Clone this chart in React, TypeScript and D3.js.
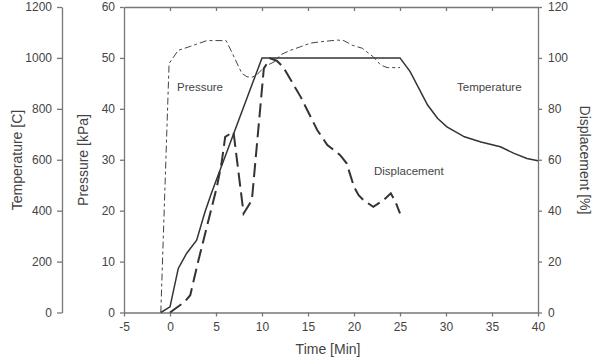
import React, { useEffect, useRef } from 'react';
import * as d3 from 'd3';

// time [min], temperature [C]
const tempTime = [-1, 0, 0.9, 1.8, 2.9, 3.8, 4.5, 10, 25, 26.1, 28, 29.1, 30.1, 32, 33.8, 35.9, 37.4, 38.8, 40];
const tempValue = [0, 22, 173, 232, 284, 395, 468, 1000, 1000, 946, 815, 762, 729, 690, 670, 651, 625, 605, 596];

// time [min], pressure [kPa]
const presTime = [-1, -0.1, 0.9, 1.6, 2.9, 4, 6.1, 6.7, 7.8, 8.35, 8.9, 9.4, 10.3, 11.4, 12, 13.1, 14.2, 15.25, 16.5, 18.2, 18.9, 19.8, 20.9, 22.1, 22.9, 23.6, 25];
const presValue = [0, 48.9, 51.5, 51.9, 52.7, 53.4, 53.4, 51.2, 47, 46.3, 46.2, 46.6, 48.3, 49.3, 50.6, 51.5, 52.2, 52.9, 53.2, 53.5, 53.4, 52.5, 51.9, 50.2, 48.6, 48.1, 48.1];

// time [min], displacement [%]
const dispTime = [0, 1.6, 2.2, 3.1, 4, 5.1, 5.6, 6, 6.9, 8, 8.9, 10.2, 10.9, 11.6, 12.3, 14.2, 16, 17.1, 18.5, 19.2, 20, 20.5, 21.05, 22.1, 23.2, 24, 24.5, 25];
const dispValue = [0, 4.2, 6.8, 20.6, 33.6, 49.4, 58.6, 69, 71, 38.9, 44.1, 95.9, 99.8, 98.9, 96.5, 84.7, 71.7, 65.8, 61.8, 58.6, 49.4, 46.1, 44.1, 41.5, 44.1, 46.8, 43.5, 38.9];

const timeTicks = [-5, 0, 5, 10, 15, 20, 25, 30, 35, 40];
const tempTicks = [0, 200, 400, 600, 800, 1000, 1200];
const presTicks = [0, 10, 20, 30, 40, 50, 60];
const dispTicks = [0, 20, 40, 60, 80, 100, 120];

const App = () => {
    const svgRef = useRef<SVGSVGElement>(null);

    useEffect(() => {
        if (!svgRef.current) return;
        const svg = d3.select(svgRef.current);
        svg.selectAll('*').remove();

        const left = 124, right = 538, top = 7, bottom = 312.5;
        const tempAxisX = 62;
        const axisColor = '#777';
        const textColor = '#444';
        const font = 'Liberation Sans, Arial, sans-serif';
        // plain integers with an ascii hyphen for negatives
        const fmt = (d: any) => String(d);

        const x = d3.scaleLinear().domain([-5, 40]).range([left, right]);
        const yT = d3.scaleLinear().domain([0, 1200]).range([bottom, top]);
        const yP = d3.scaleLinear().domain([0, 60]).range([bottom, top]);
        const yD = d3.scaleLinear().domain([0, 120]).range([bottom, top]);

        const styleAxis = (g: any) => {
            g.select('.domain').attr('stroke', axisColor).attr('stroke-width', 1.3);
            g.selectAll('.tick line').attr('stroke', axisColor).attr('stroke-width', 1.3);
            g.selectAll('.tick text').attr('fill', textColor).attr('font-size', 12).attr('font-family', font);
        };

        // bottom time axis
        svg.append('g')
            .attr('transform', `translate(0,${bottom})`)
            .call(d3.axisBottom(x).tickValues(timeTicks).tickFormat(fmt).tickSize(4).tickPadding(6).tickSizeOuter(0))
            .call(styleAxis);

        // top frame with inward ticks
        svg.append('g')
            .attr('transform', `translate(0,${top})`)
            .call(d3.axisBottom(x).tickValues(timeTicks.slice(1, -1)).tickSize(4).tickFormat(() => '').tickSizeOuter(0))
            .call(styleAxis);

        // temperature axis (far left)
        svg.append('g')
            .attr('transform', `translate(${tempAxisX},0)`)
            .call(d3.axisLeft(yT).tickValues(tempTicks).tickFormat(fmt).tickSize(5).tickPadding(5).tickSizeOuter(0))
            .call(styleAxis);

        // pressure axis
        svg.append('g')
            .attr('transform', `translate(${left},0)`)
            .call(d3.axisLeft(yP).tickValues(presTicks).tickFormat(fmt).tickSize(4).tickPadding(5).tickSizeOuter(0))
            .call(styleAxis);

        // displacement axis (right)
        svg.append('g')
            .attr('transform', `translate(${right},0)`)
            .call(d3.axisRight(yD).tickValues(dispTicks).tickFormat(fmt).tickSize(4).tickPadding(6).tickSizeOuter(0))
            .call(styleAxis);

        const lineT = d3.line<number>().x((d, i) => x(tempTime[i])).y(d => yT(d));
        const lineP = d3.line<number>().x((d, i) => x(presTime[i])).y(d => yP(d));
        const lineD = d3.line<number>().x((d, i) => x(dispTime[i])).y(d => yD(d));

        svg.append('path')
            .datum(presValue)
            .attr('fill', 'none')
            .attr('stroke', '#444')
            .attr('stroke-width', 1)
            .attr('stroke-dasharray', '7,3,3,3')
            .attr('d', lineP);

        svg.append('path')
            .datum(tempValue)
            .attr('fill', 'none')
            .attr('stroke', '#333')
            .attr('stroke-width', 1.5)
            .attr('d', lineT);

        svg.append('path')
            .datum(dispValue)
            .attr('fill', 'none')
            .attr('stroke', '#333')
            .attr('stroke-width', 2)
            .attr('stroke-dasharray', '14,6')
            .attr('d', lineD);

        // series labels
        const label = (tx: number, ty: number, text: string) =>
            svg.append('text')
                .attr('x', tx).attr('y', ty)
                .attr('fill', textColor)
                .attr('font-size', 11.5)
                .attr('font-family', font)
                .text(text);
        label(177, 91, 'Pressure');
        label(457, 91, 'Temperature');
        label(374, 175, 'Displacement');

        // axis titles
        const title = (tx: number, ty: number, rot: number, text: string) =>
            svg.append('text')
                .attr('transform', `translate(${tx},${ty}) rotate(${rot})`)
                .attr('text-anchor', 'middle')
                .attr('fill', textColor)
                .attr('font-size', 14)
                .attr('font-family', font)
                .text(text);
        title(22, 160, -90, 'Temperature [C]');
        title(88, 160, -90, 'Pressure [kPa]');
        title(580, 160, 90, 'Displacement [%]');
        title(328, 354, 0, 'Time [Min]');
    }, []);

    return (
        <svg
            ref={svgRef}
            width={595}
            height={358}
            style={{ position: 'absolute', left: 0, top: 0, background: '#fff' }}
        />
    );
};

export default App;
